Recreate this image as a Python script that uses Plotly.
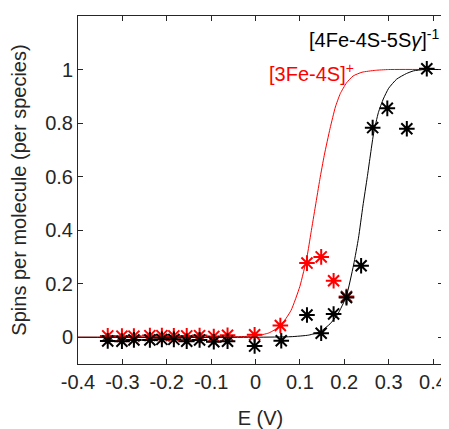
import plotly.graph_objects as go

# ---- data ----
red_E = [-0.333, -0.301, -0.274, -0.238, -0.211, -0.184, -0.155, -0.126, -0.094, -0.063,
         -0.002, 0.056, 0.116, 0.148, 0.176, 0.205]
red_S = [0.005, 0.004, 0.004, 0.006, 0.006, 0.005, 0.005, 0.006, 0.003, 0.007,
         0.009, 0.044, 0.277, 0.300, 0.211, 0.152]

black_E = [-0.333, -0.301, -0.274, -0.238, -0.211, -0.184, -0.155, -0.126, -0.094, -0.063,
           -0.002, 0.058, 0.116, 0.148, 0.176, 0.205, 0.238, 0.264, 0.297, 0.341, 0.386]
black_S = [-0.014, -0.015, -0.010, -0.010, -0.008, -0.008, -0.015, -0.010, -0.017, -0.015,
           -0.033, -0.013, 0.083, 0.015, 0.087, 0.148, 0.267, 0.783, 0.855, 0.779, 1.003]

# fitted curves
red_fit_E = [-0.40, -0.10, 0.00, 0.03, 0.056, 0.08, 0.10, 0.116, 0.125, 0.135, 0.145,
             0.155, 0.168, 0.18, 0.191, 0.205, 0.22, 0.24, 0.27, 0.30, 0.4225]
red_fit_S = [0.0, 0.0, 0.005, 0.016, 0.042, 0.10, 0.19, 0.30, 0.39, 0.49, 0.59,
             0.68, 0.78, 0.86, 0.91, 0.95, 0.976, 0.99, 0.997, 1.0, 1.0]

black_fit_E = [-0.40, 0.00, 0.08, 0.12, 0.146, 0.168, 0.185, 0.2045, 0.221, 0.232, 0.242,
               0.252, 0.266, 0.277, 0.288, 0.30, 0.318, 0.34, 0.356, 0.38, 0.4225]
black_fit_S = [0.0, 0.0, 0.002, 0.008, 0.021, 0.05, 0.085, 0.152, 0.27, 0.37, 0.49,
               0.60, 0.76, 0.84, 0.89, 0.93, 0.964, 0.985, 0.995, 1.0, 1.0]

x_ticks = [-0.4, -0.3, -0.2, -0.1, 0, 0.1, 0.2, 0.3, 0.4]
x_labels = ["-0.4", "-0.3", "-0.2", "-0.1", "0", "0.1", "0.2", "0.3", "0.4"]
y_ticks = [0, 0.2, 0.4, 0.6, 0.8, 1]
y_labels = ["0", "0.2", "0.4", "0.6", "0.8", "1"]

RED = "#ff0000"
BLACK = "#000000"
AX = "#262626"
FONT = "Liberation Sans, Arial, sans-serif"

fig = go.Figure()
fig.add_trace(go.Scatter(x=red_E, y=red_S, mode="markers",
                         marker=dict(symbol="asterisk-open", size=13, color=RED,
                                     line=dict(color=RED, width=2)),
                         showlegend=False))
fig.add_trace(go.Scatter(x=black_E, y=black_S, mode="markers",
                         marker=dict(symbol="asterisk-open", size=13, color=BLACK,
                                     line=dict(color=BLACK, width=2)),
                         showlegend=False))
fig.add_trace(go.Scatter(x=red_fit_E, y=red_fit_S, mode="lines",
                         line=dict(color=RED, width=1, shape="spline", smoothing=0.5),
                         showlegend=False))
fig.add_trace(go.Scatter(x=black_fit_E, y=black_fit_S, mode="lines",
                         line=dict(color=BLACK, width=1, shape="spline", smoothing=0.5),
                         showlegend=False))

fig.add_annotation(x=0.419, y=1.115, xref="x", yref="y", xanchor="right", yanchor="middle",
                   text="[4Fe-4S-5S<i>γ</i>]<sup>-1</sup>", showarrow=False,
                   font=dict(family=FONT, size=20, color=BLACK))
fig.add_annotation(x=0.227, y=0.99, xref="x", yref="y", xanchor="right", yanchor="middle",
                   text="[3Fe-4S]<sup>+</sup>", showarrow=False,
                   font=dict(family=FONT, size=20, color=RED))

axis_common = dict(showline=True, linecolor=AX, linewidth=1, mirror="ticks",
                   ticks="inside", ticklen=5, tickcolor=AX, showgrid=False, zeroline=False,
                   automargin=False,
                   tickfont=dict(family=FONT, size=20, color=AX))

fig.update_xaxes(range=[-0.4, 0.4225], tickvals=x_ticks, ticktext=x_labels,
                 title=dict(text="E (V)", font=dict(family=FONT, size=20, color=AX), standoff=20),
                 **axis_common)
fig.update_yaxes(range=[-0.1, 1.2], tickvals=y_ticks, ticktext=y_labels,
                 title=dict(text="Spins per molecule (per species)",
                            font=dict(family=FONT, size=20, color=AX), standoff=16),
                 **axis_common)

# page body has an 8px margin; figure sized so the plot area lands where the reference has it
fig.update_layout(width=441, height=421, plot_bgcolor="white", paper_bgcolor="white",
                  margin=dict(l=70, r=6, t=8, b=65), showlegend=False)

fig.write_html("out.html")
